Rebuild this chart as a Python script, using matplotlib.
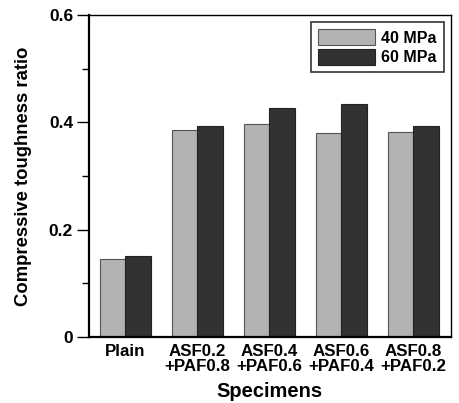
import numpy as np
import matplotlib
matplotlib.use("Agg")
import matplotlib.pyplot as plt
from matplotlib.ticker import MultipleLocator

plt.rcParams['font.family'] = ['Liberation Sans', 'DejaVu Sans']
plt.rcParams['font.weight'] = 'bold'

# data
specimens = ['Plain', 'ASF0.2\n+PAF0.8', 'ASF0.4\n+PAF0.6', 'ASF0.6\n+PAF0.4', 'ASF0.8\n+PAF0.2']
ratio_40 = [0.145, 0.385, 0.396, 0.380, 0.382]
ratio_60 = [0.150, 0.394, 0.427, 0.435, 0.394]
series_names = ['40 MPa', '60 MPa']

fig = plt.figure(figsize=(4.6, 4.03), dpi=100)
ax = fig.add_axes([0.1935, 0.1638, 0.7865, 0.799])

x = np.arange(len(specimens))
w = 0.35
ax.bar(x - w / 2, ratio_40, w, color='#b3b3b3', edgecolor='#555555', linewidth=0.8, label=series_names[0])
ax.bar(x + w / 2, ratio_60, w, color='#323232', edgecolor='#222222', linewidth=0.8, label=series_names[1])

ax.set_xlim(-0.505, 4.52)
ax.set_ylim(0, 0.6)
ax.yaxis.set_minor_locator(MultipleLocator(0.1))
ax.set_yticks([0, 0.2, 0.4, 0.6])
ax.set_yticklabels(['0', '0.2', '0.4', '0.6'])
ax.set_xticks(x)
ax.set_xticklabels(specimens, fontsize=12.2, fontweight='bold', linespacing=0.98)
ax.tick_params(axis='x', length=0, pad=5)
ax.tick_params(axis='y', which='major', length=8.5, width=1.0, labelsize=12.5, pad=3)
ax.tick_params(axis='y', which='minor', length=5, width=1.0)
for lab in ax.get_yticklabels():
    lab.set_fontweight('bold')

ax.spines['left'].set_linewidth(1.6)
ax.spines['bottom'].set_linewidth(1.6)
ax.spines['top'].set_linewidth(1.0)
ax.spines['right'].set_linewidth(1.0)

ax.set_xlabel('Specimens', fontsize=14.5, fontweight='bold', labelpad=6)
ax.set_ylabel('Compressive toughness ratio', fontsize=13.3, fontweight='bold', labelpad=12)

leg = ax.legend(loc='upper right', fontsize=11.5, frameon=True, fancybox=False,
                edgecolor='black', handlelength=3.6, handleheight=1.15,
                labelspacing=0.2, borderpad=0.45, handletextpad=0.35,
                borderaxespad=0.45)
leg.get_frame().set_linewidth(1.2)
for t in leg.get_texts():
    t.set_fontweight('bold')

fig.savefig('out.png', dpi=100)
